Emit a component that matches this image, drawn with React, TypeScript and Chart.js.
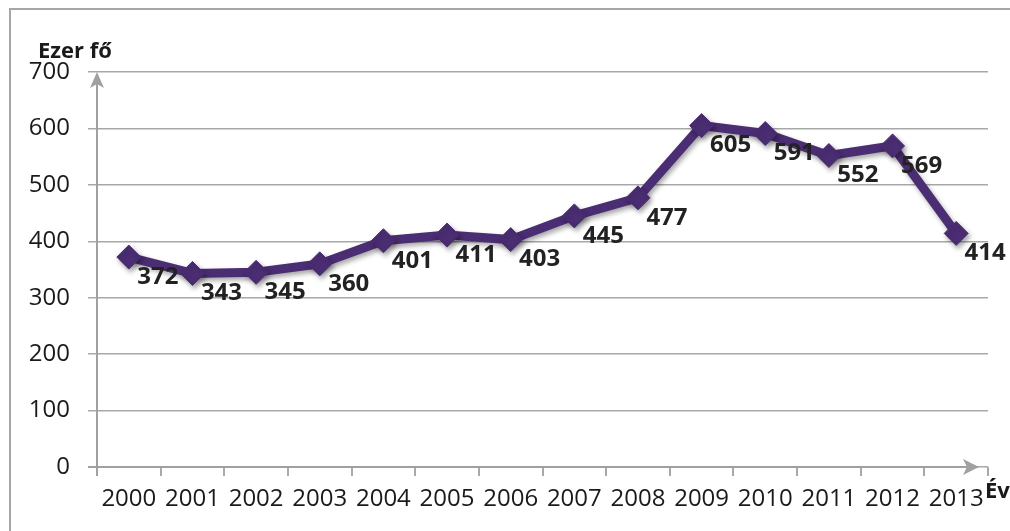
import React, { useEffect, useRef } from "react";
import { Chart, registerables } from "chart.js";

Chart.register(...registerables);

const years = ["2000", "2001", "2002", "2003", "2004", "2005", "2006", "2007", "2008", "2009", "2010", "2011", "2012", "2013"];
const values = [372, 343, 345, 360, 401, 411, 403, 445, 477, 605, 591, 552, 569, 414];
const yAxisTitle = "Ezer fő";
const xAxisTitle = "Év";

const LINE = "#4b2d73";
const GRID = "#a8a8a8";
const FONT = "'Open Sans', 'Liberation Sans', sans-serif";

const decorPlugin = {
  id: "decor",
  beforeDraw(chart: any) {
    const ctx = chart.ctx;
    ctx.save();
    ctx.fillStyle = "#ffffff";
    ctx.fillRect(0, 0, chart.width, chart.height);
    ctx.strokeStyle = "#a6a6a6";
    ctx.lineWidth = 2;
    ctx.strokeRect(10, 9, chart.width + 20, chart.height + 20);
    ctx.restore();
  },
  afterDraw(chart: any) {
    const ctx = chart.ctx;
    const a = chart.chartArea;
    ctx.save();
    ctx.strokeStyle = "#a0a0a0";
    ctx.fillStyle = "#a0a0a0";
    ctx.lineWidth = 2;
    // y axis
    ctx.beginPath();
    ctx.moveTo(a.left, a.bottom + 9);
    ctx.lineTo(a.left, a.top + 4);
    ctx.stroke();
    ctx.beginPath();
    ctx.moveTo(a.left, a.top);
    ctx.lineTo(a.left - 7, a.top + 16);
    ctx.lineTo(a.left, a.top + 12);
    ctx.lineTo(a.left + 7, a.top + 16);
    ctx.closePath();
    ctx.fill();
    // x axis
    ctx.beginPath();
    ctx.moveTo(a.left - 9, a.bottom);
    ctx.lineTo(a.right - 10, a.bottom);
    ctx.stroke();
    ctx.beginPath();
    ctx.moveTo(a.right - 9, a.bottom);
    ctx.lineTo(a.right - 25, a.bottom - 8);
    ctx.lineTo(a.right - 21, a.bottom);
    ctx.lineTo(a.right - 25, a.bottom + 8);
    ctx.closePath();
    ctx.fill();
    // titles
    ctx.fillStyle = "#1a1a1a";
    ctx.font = `bold 22px ${FONT}`;
    ctx.textBaseline = "middle";
    ctx.textAlign = "left";
    ctx.fillText(yAxisTitle, 38, 52);
    ctx.fillText(xAxisTitle, a.right - 3, a.bottom + 25);
    // data labels
    const meta = chart.getDatasetMeta(0);
    ctx.fillStyle = "#222222";
    ctx.textAlign = "center";
    ctx.font = `bold 24px ${FONT}`;
    meta.data.forEach((pt: any, i: number) => {
      ctx.fillText(String(values[i]), pt.x + 29, pt.y + 20);
    });
    ctx.restore();
  },
  beforeDatasetDraw(chart: any) {
    const ctx = chart.ctx;
    ctx.save();
    ctx.shadowColor = "rgba(0,0,0,0.35)";
    ctx.shadowBlur = 5;
    ctx.shadowOffsetX = 2;
    ctx.shadowOffsetY = 3;
  },
  afterDatasetDraw(chart: any) {
    chart.ctx.restore();
  },
};

export default function App() {
  const ref = useRef<HTMLCanvasElement | null>(null);
  useEffect(() => {
    if (!ref.current) return;
    const chart = new Chart(ref.current, {
      type: "line",
      data: {
        labels: years,
        datasets: [
          {
            data: values,
            borderColor: LINE,
            backgroundColor: LINE,
            borderWidth: 9,
            pointStyle: "rectRot",
            pointRadius: 12,
            pointBackgroundColor: LINE,
            pointBorderColor: LINE,
            pointBorderWidth: 1,
            tension: 0,
          },
        ],
      },
      options: {
        responsive: false,
        animation: false,
        layout: { padding: { top: 72, right: 22, left: 0, bottom: 0 } },
        plugins: { legend: { display: false }, tooltip: { enabled: false } },
        scales: {
          x: {
            offset: true,
            afterFit: (s: any) => {
              s.height = 64;
            },
            grid: { display: true, drawOnChartArea: false, tickLength: 9, color: GRID, lineWidth: 2, offset: true },
            border: { display: false },
            ticks: { color: "#1a1a1a", font: { family: FONT, size: 24 }, padding: 9, maxRotation: 0, autoSkip: false },
          },
          y: {
            min: 0,
            max: 700,
            afterFit: (s: any) => {
              s.width = 97;
            },
            grid: { color: GRID, lineWidth: 1.5, tickLength: 9 },
            border: { display: false },
            ticks: { stepSize: 100, color: "#1a1a1a", font: { family: FONT, size: 24 }, padding: 18 },
          },
        },
      },
      plugins: [decorPlugin],
    });
    return () => chart.destroy();
  }, []);
  return (
    <div style={{ position: "fixed", left: 0, top: 0, width: 1010, height: 531, background: "#fff" }}>
      <canvas ref={ref} width={1010} height={531} style={{ width: 1010, height: 531 }} />
    </div>
  );
}
